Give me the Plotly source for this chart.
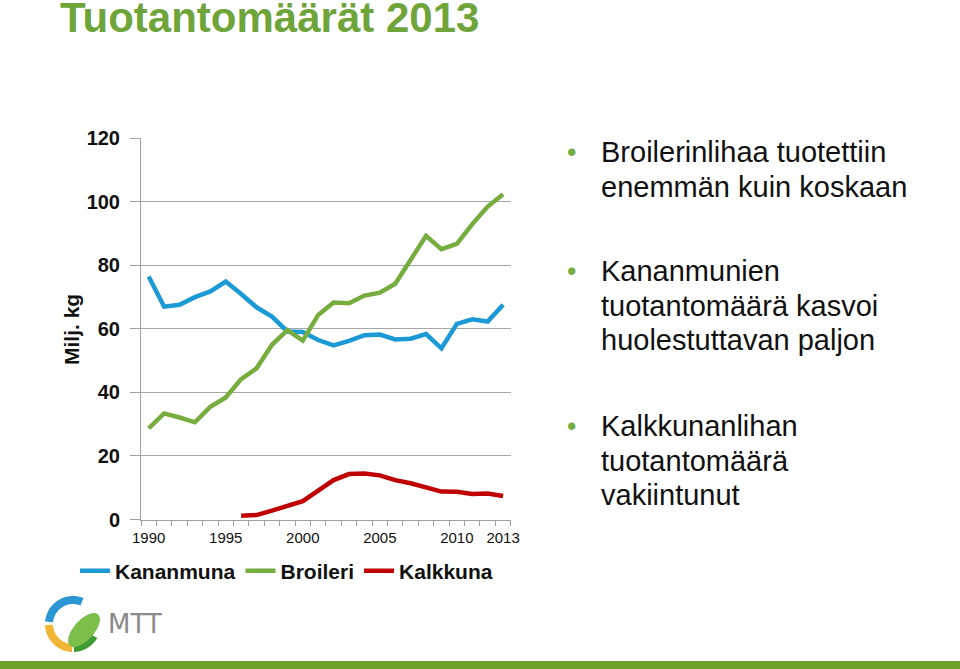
import plotly.graph_objects as go
import math

years = list(range(1990, 2014))
kananmuna = [76.5, 67.0, 67.6, 70.0, 71.8, 74.9, 71.0, 66.8, 63.9, 59.2, 59.0, 56.5,
             54.8, 56.2, 58.0, 58.2, 56.7, 56.9, 58.4, 53.9, 61.6, 63.0, 62.3, 67.6]
broileri = [28.7, 33.4, 32.1, 30.6, 35.5, 38.4, 44.2, 47.6, 55.0, 59.6, 56.3, 64.4,
            68.3, 68.1, 70.5, 71.4, 74.2, 82.0, 89.3, 85.1, 86.8, 93.0, 98.5, 102.4]
kalkkuna = [None, None, None, None, None, None, 1.2, 1.4, 2.8, 4.3, 5.8, 9.1,
            12.4, 14.3, 14.5, 13.9, 12.4, 11.4, 10.0, 8.8, 8.7, 8.0, 8.2, 7.4]
series_names = ["Kananmuna", "Broileri", "Kalkkuna"]
series_colors = ["#1b9ad6", "#77ac3f", "#c00000"]
x_tick_labels = [1990, 1995, 2000, 2005, 2010, 2013]
y_ticks = [0, 20, 40, 60, 80, 100, 120]

title_text = "Tuotantomäärät 2013"
y_title = "Milj. kg"
bullets = [
    ["Broilerinlihaa tuotettiin", "enemmän kuin koskaan"],
    ["Kananmunien", "tuotantomäärä kasvoi", "huolestuttavan paljon"],
    ["Kalkkunanlihan", "tuotantomäärä", "vakiintunut"],
]

W, H = 960, 669
FONT = "Arial, Liberation Sans, sans-serif"
GREEN = "#6fa43a"


def px(x):
    return x / W


def py(y):
    return 1 - y / H


fig = go.Figure()
for name, vals, col in zip(series_names, [kananmuna, broileri, kalkkuna], series_colors):
    fig.add_trace(go.Scatter(x=years, y=vals, name=name, mode="lines",
                             line=dict(color=col, width=4.5), connectgaps=False))

fig.update_layout(
    width=W, height=H,
    margin=dict(l=0, r=0, t=0, b=0, autoexpand=False),
    paper_bgcolor="white", plot_bgcolor="white",
    font=dict(family=FONT, color="#111111"),
    showlegend=True,
    legend=dict(orientation="h", x=px(75), y=py(571), xanchor="left", yanchor="middle",
                font=dict(family=FONT, size=21, color="#111111", weight="bold"),
                itemwidth=30, bgcolor="rgba(0,0,0,0)", tracegroupgap=0),
    xaxis=dict(domain=[px(141), px(510.8)], range=[1989.5, 2013.5],
               tickmode="array", tickvals=x_tick_labels, ticks="", showgrid=False,
               showline=True, linecolor="#a0a0a0", linewidth=1, ticklabelstandoff=4,
               tickfont=dict(family=FONT, size=15, color="#111111"),
               minor=dict(tickmode="array", tickvals=[1989.5 + i for i in range(25)],
                          ticks="outside", ticklen=5, tickcolor="#a0a0a0", showgrid=False),
               zeroline=False, fixedrange=True, automargin=False),
    yaxis=dict(domain=[py(519.5), py(138.3)], range=[0, 120],
               tickmode="array", tickvals=y_ticks, ticks="outside", ticklen=10,
               tickcolor="#a0a0a0", showgrid=True, gridcolor="#a6a6a6", gridwidth=1,
               showline=True, linecolor="#a0a0a0", linewidth=1, zeroline=False,
               ticklabelstandoff=6,
               tickfont=dict(family=FONT, size=20, color="#111111", weight="bold"),
               fixedrange=True, automargin=False),
)

ann = []
# Title
ann.append(dict(text=title_text, x=px(58), y=py(18), xref="paper", yref="paper",
                xanchor="left", yanchor="middle", showarrow=False,
                font=dict(family=FONT, size=42, color=GREEN, weight="bold")))
# Y axis title
ann.append(dict(text=y_title, x=px(71), y=py(330), xref="paper", yref="paper",
                xanchor="center", yanchor="middle", showarrow=False, textangle=-90,
                font=dict(family=FONT, size=21, color="#111111", weight="bold")))
# Bullets
group_starts = [152, 271, 426]
for g, lines in enumerate(bullets):
    y0 = group_starts[g]
    ann.append(dict(text="•", x=px(571), y=py(y0), xref="paper", yref="paper",
                    xanchor="center", yanchor="middle", showarrow=False,
                    font=dict(family=FONT, size=27, color="#77ac3f")))
    for i, line in enumerate(lines):
        ann.append(dict(text=line, x=px(599), y=py(y0 + 34.6 * i), xref="paper", yref="paper",
                        xanchor="left", yanchor="middle", showarrow=False,
                        font=dict(family=FONT, size=29, color="#111111")))
# MTT logo text
ann.append(dict(text="MTT", x=px(106), y=py(624), xref="paper", yref="paper",
                xanchor="left", yanchor="middle", showarrow=False,
                font=dict(family="DejaVu Sans, Arial, sans-serif", size=26, color="#8a8a8a")))
fig.update_layout(annotations=ann)


def arc_path(cx, cy, r1, r2, a0, a1, n=30):
    pts = []
    for k in range(n + 1):
        a = math.radians(a0 + (a1 - a0) * k / n)
        pts.append((cx + r2 * math.cos(a), cy - r2 * math.sin(a)))
    for k in range(n + 1):
        a = math.radians(a1 + (a0 - a1) * k / n)
        pts.append((cx + r1 * math.cos(a), cy - r1 * math.sin(a)))
    d = "M " + " L ".join(f"{px(x):.5f},{py(y):.5f}" for x, y in pts) + " Z"
    return d


def ellipse_path(cx, cy, a, b, rot, n=40):
    pts = []
    r = math.radians(rot)
    for k in range(n):
        t = 2 * math.pi * k / n
        ex, ey = a * math.cos(t), b * math.sin(t)
        x = cx + ex * math.cos(r) - ey * math.sin(r)
        y = cy - (ex * math.sin(r) + ey * math.cos(r))
        pts.append((x, y))
    return "M " + " L ".join(f"{px(x):.5f},{py(y):.5f}" for x, y in pts) + " Z"


shapes = []
cx, cy = 73, 624
shapes.append(dict(type="path", xref="paper", yref="paper",
                   path=arc_path(cx, cy, 20, 28, 175, 68), fillcolor="#2a96d2", line=dict(width=0)))
shapes.append(dict(type="path", xref="paper", yref="paper",
                   path=arc_path(cx, cy, 20, 28, 182, 268), fillcolor="#f2b636", line=dict(width=0)))
shapes.append(dict(type="path", xref="paper", yref="paper",
                   path=arc_path(cx, cy, 20, 28, 272, 330), fillcolor="#3f9a34", line=dict(width=0)))
shapes.append(dict(type="path", xref="paper", yref="paper",
                   path=ellipse_path(84, 630, 21, 10, 48), fillcolor="#7bbf4a", line=dict(width=0)))
# bottom green bar
shapes.append(dict(type="rect", xref="paper", yref="paper", x0=0, x1=1, y0=0, y1=py(661),
                   fillcolor="#6aa22a", line=dict(width=0)))
fig.update_layout(shapes=shapes)

fig.write_html("out.html", config={"displayModeBar": False},
               post_script="document.body.style.margin='0';document.body.style.overflow='hidden';")
